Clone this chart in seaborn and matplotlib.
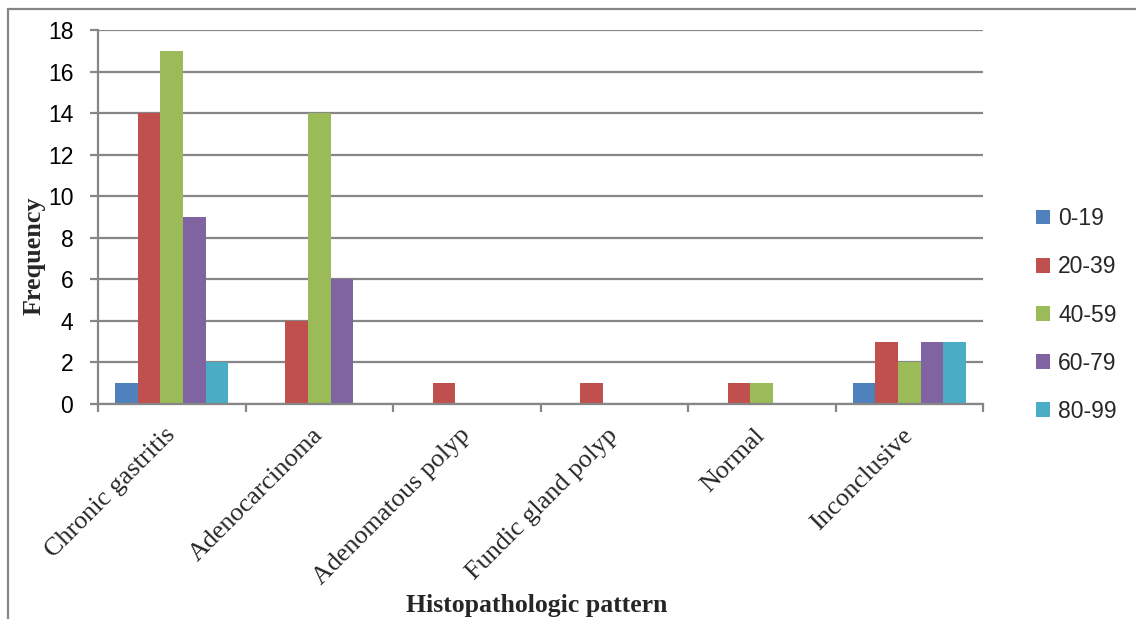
import matplotlib
matplotlib.use("Agg")
import matplotlib.pyplot as plt
from matplotlib.lines import Line2D
from matplotlib.patches import Patch
import seaborn as sns
import pandas as pd

# Histopathologic patterns and age groups
patterns = ["Chronic gastritis", "Adenocarcinoma", "Adenomatous polyp",
            "Fundic gland polyp", "Normal", "Inconclusive"]
age_groups = ["0-19", "20-39", "40-59", "60-79", "80-99"]

# Frequency per pattern for each age group
freq_0_19 = [1, 0, 0, 0, 0, 1]
freq_20_39 = [14, 4, 1, 1, 1, 3]
freq_40_59 = [17, 14, 0, 0, 1, 2]
freq_60_79 = [9, 6, 0, 0, 0, 3]
freq_80_99 = [2, 0, 0, 0, 0, 3]

y_ticks = [0, 2, 4, 6, 8, 10, 12, 14, 16, 18]
colors = ["#4F81BD", "#C0504D", "#9BBB59", "#8064A2", "#4BACC6"]

series = [freq_0_19, freq_20_39, freq_40_59, freq_60_79, freq_80_99]
rows = []
for grp, vals in zip(age_groups, series):
    for pat, v in zip(patterns, vals):
        rows.append({"pattern": pat, "age": grp, "freq": v})
df = pd.DataFrame(rows)

sns.set_theme(style="white")
plt.rcParams["font.family"] = ["Liberation Sans", "DejaVu Sans"]
serif = ["Liberation Serif", "DejaVu Serif"]

W, H = 1136, 619
fig = plt.figure(figsize=(W / 100, H / 100), dpi=100)
ax = fig.add_axes([98 / W, 1 - 404 / H, (983 - 98) / W, (404 - 30) / H])

grid_c = "#868686"
ax.set_axisbelow(True)
for t in y_ticks:
    ax.axhline(t, color=grid_c, lw=1.6, zorder=0)

sns.barplot(data=df, x="pattern", y="freq", hue="age", order=patterns,
            hue_order=age_groups, palette=colors, width=0.763, gap=0,
            linewidth=0, saturation=1, ax=ax, legend=False, zorder=2)

ax.set_xlim(-0.5, len(patterns) - 0.5)
ax.set_ylim(0, 18)
ax.set_yticks(y_ticks)
ax.set_yticklabels([str(t) for t in y_ticks], fontsize=16.5, color="black")
ax.tick_params(axis="y", which="major", length=5.8, width=1.6, color=grid_c,
               direction="out", left=True, pad=12)

# category labels at centres, tick marks at group boundaries
ax.set_xticks(range(len(patterns)))
ax.set_xticklabels(patterns, rotation=45, ha="right", va="center",
                   rotation_mode="anchor", fontsize=18.8, family=serif)
ax.tick_params(axis="x", which="major", length=0, pad=20)
ax.set_xticks([i - 0.5 for i in range(len(patterns) + 1)], minor=True)
ax.tick_params(axis="x", which="minor", length=5.8, width=1.6, color=grid_c,
               direction="out", bottom=True)

for s in ["top", "right"]:
    ax.spines[s].set_visible(False)
for s in ["left", "bottom"]:
    ax.spines[s].set_color(grid_c)
    ax.spines[s].set_linewidth(1.6)

ax.set_xlabel("Histopathologic pattern", fontsize=18.5, fontweight="bold",
              family=serif)
ax.set_ylabel("Frequency", fontsize=18.8, fontweight="bold", family=serif)
ax.xaxis.set_label_coords((537 - 98) / 885, (404 - 594) / 374)
ax.yaxis.set_label_coords((46 - 98) / 885, (404 - 256) / 374)

handles = [Patch(facecolor=c, edgecolor="none", label=g)
           for c, g in zip(colors, age_groups)]
ax.legend(handles=handles, loc="center left",
          bbox_to_anchor=((1036 - 98) / 885, (404 - 315) / 374),
          frameon=False, fontsize=16.5, handlelength=0.62, handleheight=0.62,
          handletextpad=0.35, labelspacing=1.1, borderpad=0, borderaxespad=0)

# outer chart frame
fig.add_artist(Line2D([8 / W, 1], [1 - 9 / H, 1 - 9 / H], color=grid_c, lw=1.6))
fig.add_artist(Line2D([8 / W, 8 / W], [0, 1 - 9 / H], color=grid_c, lw=1.6))

fig.savefig("out.png", dpi=100, facecolor="white")
